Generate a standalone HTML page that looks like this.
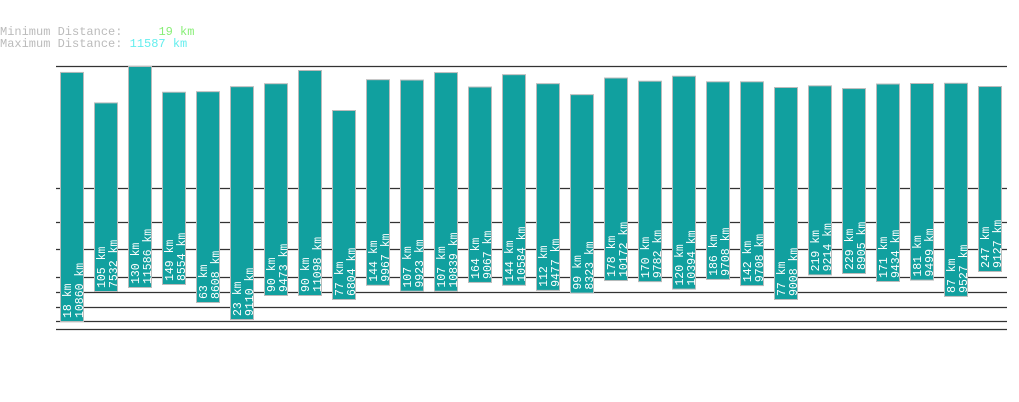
<!DOCTYPE html>
<html><head><meta charset="utf-8">
<style>
html,body{margin:0;padding:0;background:#fff;width:1019px;height:402px;overflow:hidden}
svg{display:block}
text{font-family:"Liberation Mono","DejaVu Sans Mono",monospace}
</style></head>
<body>
<svg id="chart" width="1019" height="402" viewBox="0 0 1019 402">
  <text x="0" y="35" font-size="12" fill="#bbbbbb" xml:space="preserve">Minimum Distance:     <tspan fill="#88ee77">19 km</tspan></text>
  <text x="0" y="47" font-size="12" fill="#bbbbbb" xml:space="preserve">Maximum Distance: <tspan fill="#66eeee">11587 km</tspan></text>
  <g id="grid"></g>
  <g id="bars"></g>
</svg>
<script>
const minValues = [18,105,130,149,63,23,90,90,77,144,107,107,164,144,112,99,178,170,120,186,142,77,219,229,171,181,87,247];
const maxValues = [10860,7532,11586,8554,8608,9110,9473,11098,6804,9967,9923,10839,9067,10584,9477,8323,10172,9782,10394,9708,9708,9008,9214,8905,9434,9499,9527,9127];
const gridValues = [11587,900,600,400,200,100,45,12,0];

// value -> y scale (nonlinear, piecewise from reference)
const knots = [[0,329],[12,321],[18,321],[23,319],[45,307],[63,302],[77,299],[90,295],[105,291],[130,287],[149,284],[171,281],[200,277],[229,273],[247,271],[400,249],[600,222],[900,188],[6804,110],[9008,87],[11587,66]];
function y(v){
  if(v<=knots[0][0]) return knots[0][1];
  for(let i=1;i<knots.length;i++){
    if(v<=knots[i][0]){
      const [a,ya]=knots[i-1],[b,yb]=knots[i];
      return ya+(v-a)/(b-a)*(yb-ya);
    }
  }
  return knots[knots.length-1][1];
}
function x(i){return 60+i*34;}
const NS="http://www.w3.org/2000/svg";
const grid=document.getElementById('grid');
gridValues.forEach(g=>{
  const l=document.createElementNS(NS,'line');
  
  
  const yy=Math.round(y(g))+0.5;
  l.setAttribute('x1',56);l.setAttribute('x2',1007);
  l.setAttribute('y1',yy);l.setAttribute('y2',yy);
  l.setAttribute('stroke','#333');l.setAttribute('stroke-width',1.2);
  grid.appendChild(l);
});
const bars=document.getElementById('bars');
minValues.forEach((mn,i)=>{
  const mx=maxValues[i];
  const g=document.createElementNS(NS,'g');
  
  
  const top=y(mx),bot=y(mn);
  const r=document.createElementNS(NS,'rect');
  
  
  r.setAttribute('x',x(i)+0.5);r.setAttribute('y',top+0.5);
  r.setAttribute('width',23);r.setAttribute('height',bot-top);
  r.setAttribute('fill','#11a09f');r.setAttribute('stroke','#bbbbbb');r.setAttribute('stroke-width',1);
  g.appendChild(r);
  [[mn+' km',x(i)+11],[mx+' km',x(i)+23]].forEach(([s,tx])=>{
    const t=document.createElementNS(NS,'text');
    
    
    const ty=bot-3;
    t.setAttribute('x',tx);t.setAttribute('y',ty);
    t.setAttribute('transform','rotate(-90 '+tx+' '+ty+')');
    t.setAttribute('font-size','11.5');t.setAttribute('fill','#ffffff');
    t.textContent=s;
    g.appendChild(t);
  });
  bars.appendChild(g);
});
</script>
</body></html>
